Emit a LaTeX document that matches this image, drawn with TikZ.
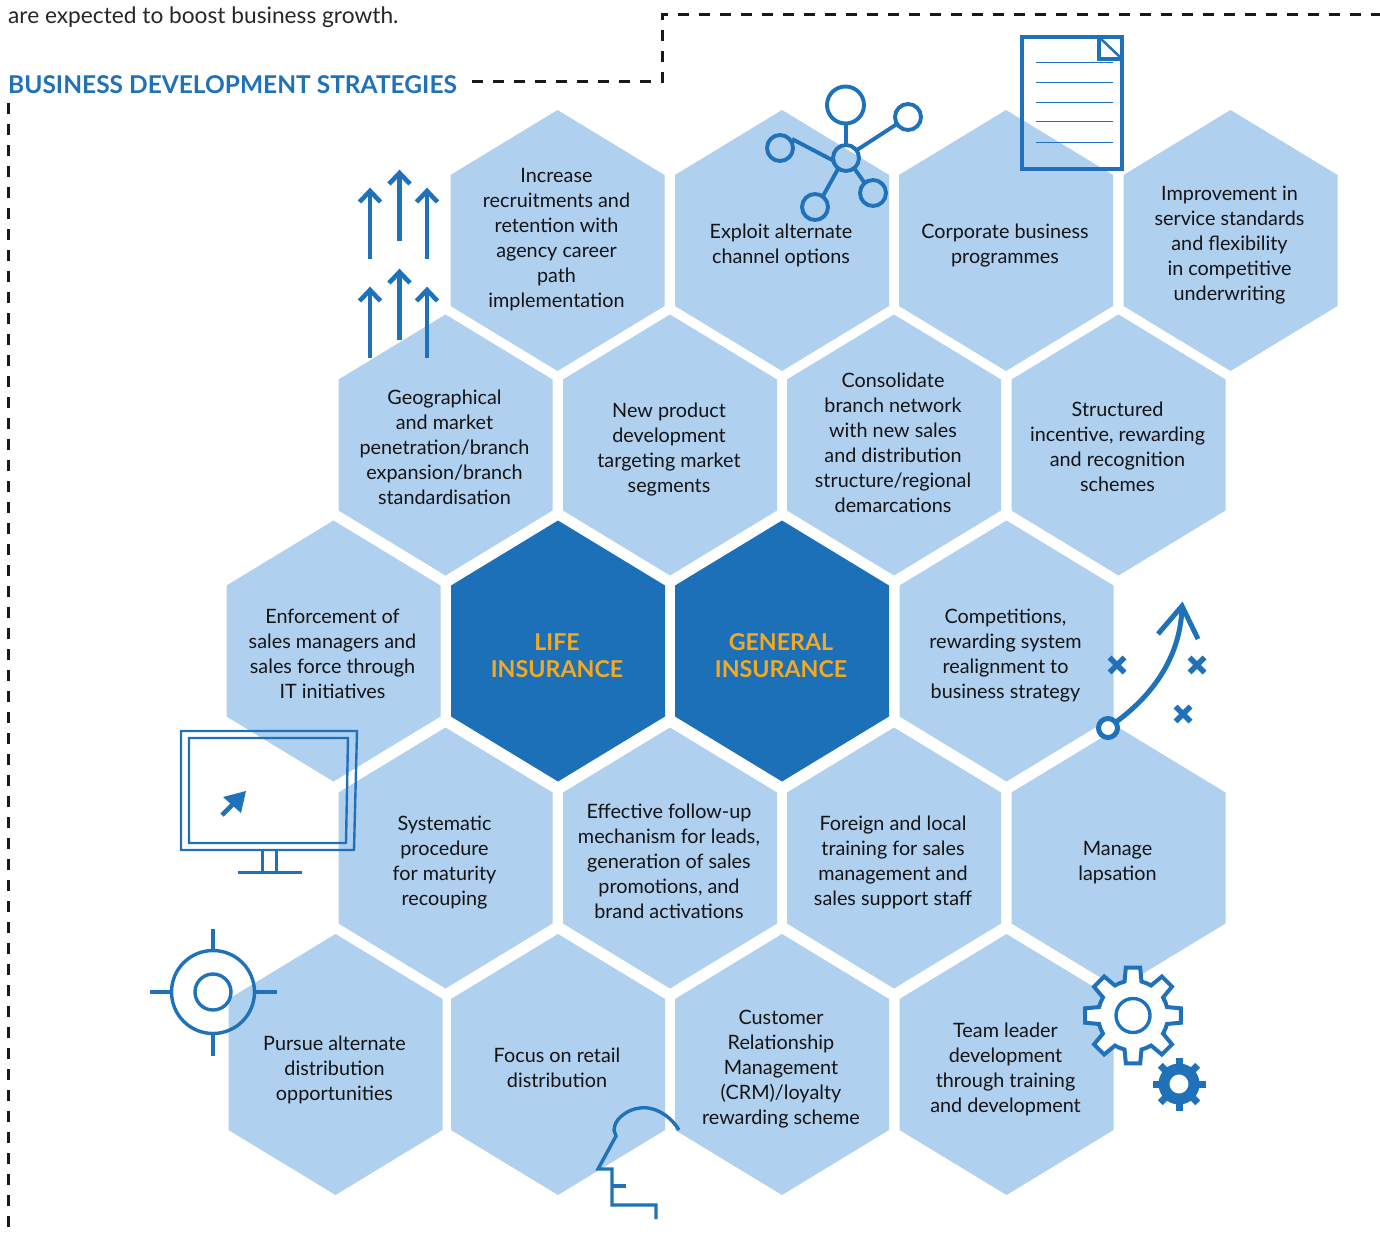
\documentclass[tikz,border=0pt]{standalone}
\usepackage{fontspec}
\setmainfont{Lato}
\definecolor{hexlight}{HTML}{AFD0EF}
\definecolor{hexdark}{HTML}{1C70B8}
\definecolor{iconblue}{HTML}{1F72BA}
\definecolor{gold}{HTML}{F4A922}
\definecolor{titleblue}{HTML}{1F72BA}
\definecolor{inktext}{HTML}{141414}
\newcommand{\hexshape}[3]{\fill[#3] (#1,#2) ++(0,-130.5) -- ++(107,65) -- ++(0,131) -- ++(-107,65) -- ++(-107,-65) -- ++(0,-131) -- cycle;
}
\tikzset{
  hextext/.style={align=center,text=inktext,inner sep=0pt,xshift=-1pt,yshift=-1.5pt,font=\fontsize{19.8}{25}\selectfont},
  coretext/.style={align=center,text=gold,inner sep=0pt,xshift=-1pt,yshift=-1.5pt,font=\fontsize{23.2}{27}\selectfont\bfseries},
  guide/.style={draw=black!90,line width=3pt,dash pattern=on 11pt off 10pt},
  iconline/.style={draw=iconblue,line width=3.4pt},
  netline/.style={draw=iconblue,line width=3.9pt},
  thinline/.style={draw=iconblue,line width=1pt},
  uparrow/.style={draw=iconblue,line width=4.6pt},
  crossmark/.style={draw=iconblue,line width=5.6pt},
}
\newcommand{\hexcell}[5]{\hexshape{#2}{#3}{hexlight}\node[hextext] (#1) at (#2,#4) {#5};}
\newcommand{\uparr}[3]{\draw[uparrow] (#1,#3) -- (#1,#2+2); \draw[uparrow,line join=miter] (#1-10.5,#2+13) -- (#1,#2+2) -- (#1+10.5,#2+13);}
\newcommand{\crossat}[2]{\draw[crossmark] (#1-7.5,#2-7.5) -- (#1+7.5,#2+7.5) (#1-7.5,#2+7.5) -- (#1+7.5,#2-7.5);}
\begin{document}
\begin{tikzpicture}[x=1pt,y=-1pt]
\useasboundingbox (0,0) rectangle (1380,1236);
% guides and headings
\node[anchor=base west,inner sep=0pt,text=black!85,font=\fontsize{22.7}{26}\selectfont] (intro) at (8,23.5) {are expected to boost business growth.};
\node[anchor=base west,inner sep=0pt,text=titleblue,font=\fontsize{24.5}{28}\selectfont\bfseries] (title) at (8,94) {BUSINESS DEVELOPMENT STRATEGIES};
\draw[guide] (472,82) -- (662,82) -- (662,15) -- (1380,15);
\draw[guide] (8,103) -- (8,1232);
% row 1
\hexcell{a1}{557.5}{240.5}{238}{Increase\\recruitments and\\retention with\\agency career\\path\\implementation}
\hexcell{a2}{782}{240.5}{244}{Exploit alternate\\channel options}
\hexcell{a3}{1006}{240.5}{244}{Corporate business\\programmes}
\hexcell{a4}{1230.5}{240.5}{244}{Improvement in\\service standards\\and flexibility\\in competitive\\underwriting}
% row 2
\hexcell{b1}{445.5}{445}{446}{Geographical\\and market\\penetration/branch\\expansion/branch\\standardisation}
\hexcell{b2}{670}{445}{448}{New product\\development\\targeting market\\segments}
\hexcell{b3}{894}{445}{441}{Consolidate\\branch network\\with new sales\\and distribution\\structure/regional\\demarcations}
\hexcell{b4}{1118.5}{445}{445}{Structured\\incentive, rewarding\\and recognition\\schemes}
% row 3
\hexcell{c1}{333.5}{651}{652}{Enforcement of\\sales managers and\\sales force through\\IT initiatives}
\hexshape{558}{651}{hexdark}\node[coretext] (life) at (558,654) {LIFE\\INSURANCE};
\hexshape{782}{651}{hexdark}\node[coretext] (general) at (782,654) {GENERAL\\INSURANCE};
\hexcell{c4}{1006.5}{651}{654}{Competitions,\\rewarding system\\realignment to\\business strategy}
% row 4
\hexcell{d1}{445.5}{858}{861}{Systematic\\procedure\\for maturity\\recouping}
\hexcell{d2}{670}{858}{860}{Effective follow-up\\mechanism for leads,\\generation of sales\\promotions, and\\brand activations}
\hexcell{d3}{894}{858}{861}{Foreign and local\\training for sales\\management and\\sales support staff}
\hexcell{d4}{1118.5}{858}{861}{Manage\\lapsation}
% row 5
\hexcell{e1}{335.5}{1064.5}{1068}{Pursue alternate\\distribution\\opportunities}
\hexcell{e2}{558}{1064.5}{1066}{Focus on retail\\distribution}
\hexcell{e3}{782}{1064.5}{1068}{Customer\\Relationship\\Management\\(CRM)/loyalty\\rewarding scheme}
\hexcell{e4}{1006.5}{1064.5}{1068}{Team leader\\development\\through training\\and development}
% arrows icon
\uparr{370}{189}{259}\uparr{399.5}{171}{241}\uparr{427}{189}{259}
\uparr{370}{288}{358}\uparr{399.5}{270}{340}\uparr{427}{288}{358}
% network icon
\draw[netline] (845.5,105) circle (18.5);
\draw[netline] (908,117) circle (13);
\draw[netline] (780,148) circle (13);
\draw[netline] (873,193) circle (13);
\draw[netline] (815,207) circle (13);
\draw[netline] (846,158) circle (13);
\draw[netline] (846,124) -- (846,145) (857,150) -- (897,124) (792,139) -- (834,161) (854,168) -- (864,182) (838,169) -- (823,196);
% document icon
\draw[iconline] (1022,37) rectangle (1122,169);
\draw[iconline] (1099,37) rectangle (1122,59);
\draw[iconline,line width=2.5pt] (1099,37) -- (1122,59);
\foreach \yy in {63,83,103,122,142} \draw[thinline] (1036,\yy) -- (1113,\yy);
% monitor icon
\draw[iconline,line width=2.4pt] (181,731) -- (357,731) -- (354,850) -- (181,850) -- cycle;
\draw[iconline,line width=2.4pt] (189,738) -- (348,738) -- (346,843) -- (189,843) -- cycle;
\draw[iconline,line width=3pt] (262,850) -- (262,872) (276,850) -- (276,872) (238,872) -- (302,872);
\fill[iconblue] (246,791) -- (223,797) -- (241,813) -- cycle;
\draw[iconblue,line width=4.6pt] (236,801) -- (222,815);
% target icon
\draw[iconline] (213,992) circle (41.5);
\draw[iconline] (213,992) circle (18);
\draw[iconline] (213,929) -- (213,950) (213,1035) -- (213,1056) (150,992) -- (171,992) (255,992) -- (277,992);
% tactic icon
\draw[iconline,line width=5pt] (1116,722) .. controls (1150,697) and (1180,660) .. (1182,608);
\draw[iconline,line width=5pt,line join=miter] (1158,634) -- (1182,606) -- (1198,639);
\draw[iconline,line width=5pt,fill=white] (1108,728) circle (9.5);
\crossat{1117}{665}\crossat{1197}{665}\crossat{1183}{714}
% gears
\draw[iconline,line width=4pt,fill=white,line join=miter,shift={(1133,1015.5)}]
  (14:35) arc[start angle=14,end angle=31,radius=35] -- (36.5:48.5) -- (53.5:48.5) -- (59:35)
  arc[start angle=59,end angle=76,radius=35] -- (81.5:48.5) -- (98.5:48.5) -- (104:35)
  arc[start angle=104,end angle=121,radius=35] -- (126.5:48.5) -- (143.5:48.5) -- (149:35)
  arc[start angle=149,end angle=166,radius=35] -- (171.5:48.5) -- (188.5:48.5) -- (194:35)
  arc[start angle=194,end angle=211,radius=35] -- (216.5:48.5) -- (233.5:48.5) -- (239:35)
  arc[start angle=239,end angle=256,radius=35] -- (261.5:48.5) -- (278.5:48.5) -- (284:35)
  arc[start angle=284,end angle=301,radius=35] -- (306.5:48.5) -- (323.5:48.5) -- (329:35)
  arc[start angle=329,end angle=346,radius=35] -- (351.5:48.5) -- (368.5:48.5) -- cycle;
\draw[iconline] (1133,1015.5) circle (17);
\draw[iconblue,line width=11pt] (1179,1084) circle (15);
\foreach \ang in {0,45,...,315} \draw[iconblue,line width=7pt,shift={(1179,1084)}] (\ang:18) -- (\ang:26.5);
% head icon
\draw[iconline,line join=miter] (679,1130) .. controls (668,1112) and (650,1106) .. (640,1108) .. controls (628,1109) and (617,1118) .. (615,1125) -- (614,1130) -- (616,1136) -- (598,1169) -- (612,1169) -- (612,1205) -- (656,1205) -- (656,1219);
\draw[iconline] (612,1186) -- (626,1186);
\end{tikzpicture}
\end{document}
